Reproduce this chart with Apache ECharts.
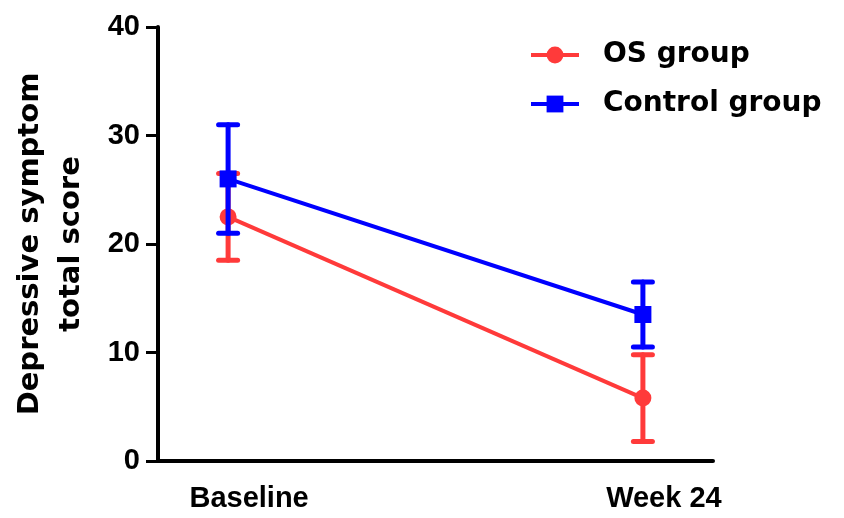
<!DOCTYPE html>
<html>
<head>
<meta charset="utf-8">
<script src="https://cdn.jsdelivr.net/npm/echarts@6/dist/echarts.min.js"></script>
<style>html,body{margin:0;padding:0;background:#fff;}#chart{width:844px;height:518px;}</style>
</head>
<body>
<div id="chart"></div>
<script>
var categories = ['Baseline', 'Week 24'];
var osMean = [22.5, 5.8];
var osErr = [4.0, 4.0];
var ctrlMean = [26.0, 13.5];
var ctrlErr = [5.0, 3.0];
var yTicks = [0, 10, 20, 30, 40];
var seriesNames = ['OS group', 'Control group'];
var yTitle = 'Depressive symptom\ntotal score';

var RED = '#FF3A3A';
var BLUE = '#0000FF';

function pts(mean) { return mean.map(function (m, i) { return [i, m]; }); }
function errPts(mean, err) { return mean.map(function (m, i) { return [i, m, err[i]]; }); }

function errRender(color) {
  return function (params, api) {
    var x = api.value(0), m = api.value(1), e = api.value(2);
    var top = api.coord([x, m + e]);
    var bot = api.coord([x, m - e]);
    var hw = 9.5;
    var st = { stroke: color, lineWidth: 5, lineCap: 'round' };
    return {
      type: 'group',
      children: [
        { type: 'line', shape: { x1: top[0], y1: top[1], x2: bot[0], y2: bot[1] }, style: st },
        { type: 'line', shape: { x1: top[0] - hw, y1: top[1], x2: top[0] + hw, y2: top[1] }, style: st },
        { type: 'line', shape: { x1: bot[0] - hw, y1: bot[1], x2: bot[0] + hw, y2: bot[1] }, style: st }
      ]
    };
  };
}

var chart = echarts.init(document.getElementById('chart'));
chart.setOption({
  animation: false,
  backgroundColor: '#fff',
  grid: { left: 158, right: 131, top: 27, bottom: 57, containLabel: false },
  legend: {
    orient: 'vertical',
    left: 529,
    top: 41,
    padding: 0,
    itemWidth: 48,
    itemHeight: 21,
    itemGap: 21,
    data: seriesNames,
    lineStyle: { width: 4 },
    textStyle: { fontFamily: 'DejaVu Sans', fontWeight: 'bold', fontSize: 28, color: '#000', padding: [0, 0, 0, 19] }
  },
  xAxis: {
    type: 'value',
    min: -0.169,
    max: 1.169,
    axisLine: { onZero: false, lineStyle: { color: '#000', width: 4 } },
    axisTick: { show: false },
    splitLine: { show: false },
    axisLabel: {
      customValues: [0, 1],
      formatter: function (v) { return categories[Math.round(v)]; },
      fontFamily: 'Liberation Sans', fontWeight: 'bold', fontSize: 29, color: '#000',
      margin: 23,
      padding: [0, 0, 0, 42]
    }
  },
  yAxis: {
    type: 'value',
    min: 0,
    max: 40,
    interval: 10,
    name: yTitle,
    nameLocation: 'middle',
    nameRotate: 90,
    nameGap: 66,
    nameTextStyle: { fontFamily: 'DejaVu Sans', fontWeight: 'bold', fontSize: 29, lineHeight: 41, color: '#000' },
    axisLine: { show: true, onZero: false, lineStyle: { color: '#000', width: 4 } },
    axisTick: { show: true, length: 12, lineStyle: { color: '#000', width: 3 } },
    splitLine: { show: false },
    axisLabel: {
      formatter: function (v) { return yTicks.indexOf(v) >= 0 ? String(v) : ''; },
      fontFamily: 'Liberation Sans', fontWeight: 'bold', fontSize: 29, color: '#000',
      margin: 18
    }
  },
  series: [
    {
      name: 'OS group err', type: 'custom', z: 2,
      renderItem: errRender(RED), data: errPts(osMean, osErr)
    },
    {
      name: seriesNames[0], type: 'line', z: 3,
      data: pts(osMean), symbol: 'circle', symbolSize: 17,
      lineStyle: { color: RED, width: 4 }, itemStyle: { color: RED }
    },
    {
      name: 'Control group err', type: 'custom', z: 4,
      renderItem: errRender(BLUE), data: errPts(ctrlMean, ctrlErr)
    },
    {
      name: seriesNames[1], type: 'line', z: 5,
      data: pts(ctrlMean), symbol: 'rect', symbolSize: 17,
      lineStyle: { color: BLUE, width: 4 }, itemStyle: { color: BLUE }
    }
  ]
});
</script>
</body>
</html>
